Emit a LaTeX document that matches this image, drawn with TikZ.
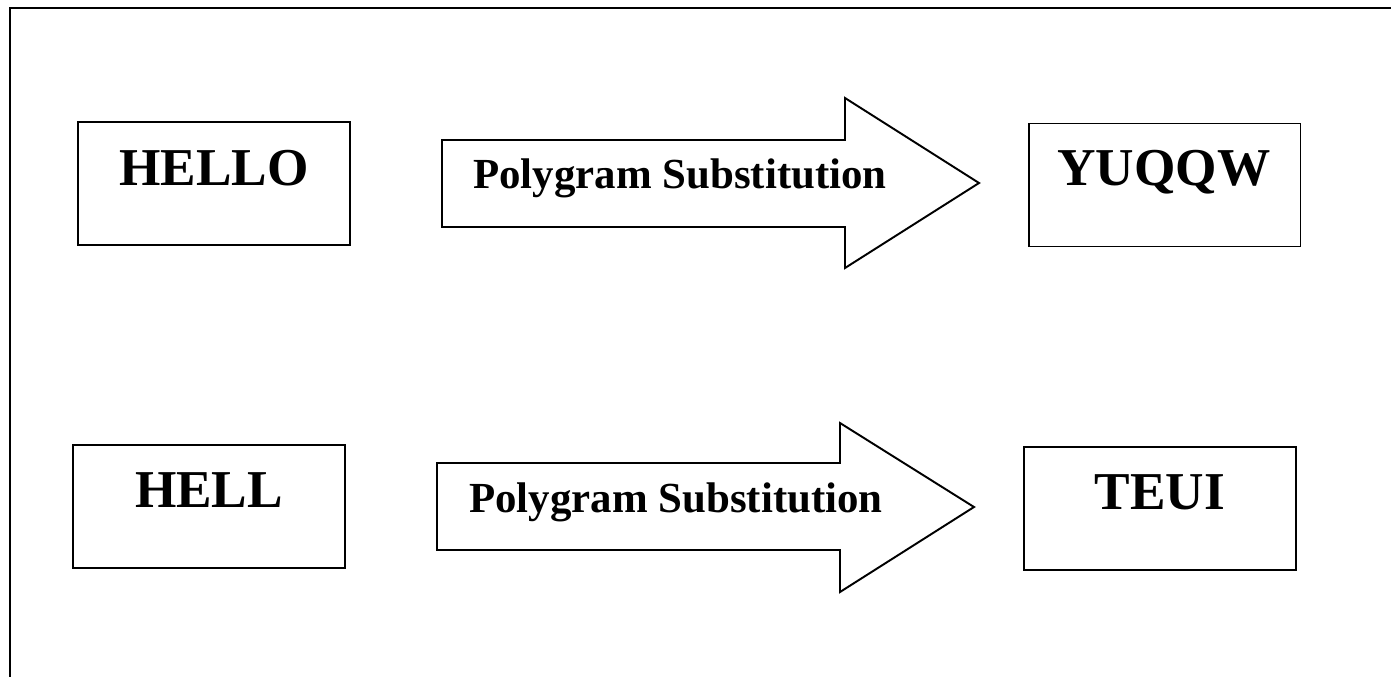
\documentclass[tikz,border=0pt]{standalone}
\usepackage{fontspec}
\setmainfont{Liberation Serif}
\usetikzlibrary{positioning}

\tikzset{
  wordbox/.style = {draw, line width=1.1pt, minimum width=5.44cm, minimum height=2.46cm, inner sep=0pt},
  word/.style = {anchor=base, inner sep=0pt, font=\fontsize{30.3}{36}\selectfont\bfseries},
  blockarrow/.style = {draw, line width=1.1pt, line join=miter},
  arrowtext/.style = {anchor=base west, inner sep=0pt, font=\fontsize{24.4}{29}\selectfont\bfseries}
}

\begin{document}
\begin{tikzpicture}[x=0.02cm, y=-0.02cm]
    \useasboundingbox (0,0) rectangle (1391,676);

    % frame
    \draw [line width=1.1pt] (10,680) -- (10,8) -- (1395,8);

    % first row
    \node (hello) [wordbox] at (214,183.5) {};
    \node (hellotxt) [word] at (214,185) {HELLO};
    \draw [blockarrow] (442,140) -- (845,140) -- (845,98) -- (979,183)
      -- (845,268) -- (845,227) -- (442,227) -- cycle;
    \node (subst1) [arrowtext] at (473,188) {Polygram Substitution};
    \node (yuqqw) [wordbox] at (1164.5,185) {};
    \node (yuqqwtxt) [word] at (1164,185) {YUQQW};

    % second row
    \node (hell) [wordbox] at (209,506.5) {};
    \node (helltxt) [word] at (209,507) {HELL};
    \draw [blockarrow] (437,463) -- (840,463) -- (840,423) -- (974,507)
      -- (840,592) -- (840,550) -- (437,550) -- cycle;
    \node (subst2) [arrowtext] at (469,512) {Polygram Substitution};
    \node (teui) [wordbox] at (1160,508.5) {};
    \node (teuitxt) [word] at (1160,509) {TEUI};
\end{tikzpicture}
\end{document}
